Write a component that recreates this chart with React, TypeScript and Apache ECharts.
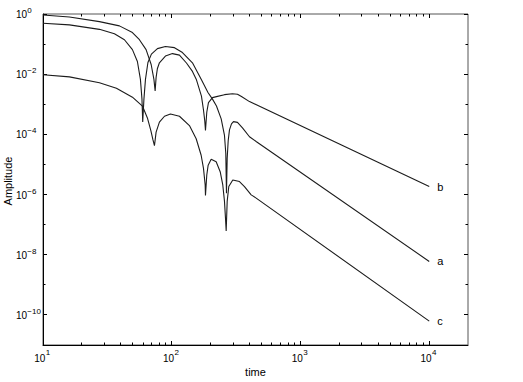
import React, { useEffect, useRef } from 'react';
import * as echarts from 'echarts';

const FONT = '"Liberation Sans", Arial, Helvetica, sans-serif';

const X_MIN = 10;
const X_MAX = 20000;
const Y_MIN = 1e-11;
const Y_MAX = 1;

const xMajorTicks = [10, 100, 1000, 10000];
const xMinorTicks = [20, 30, 40, 50, 60, 70, 80, 90, 200, 300, 400, 500, 600, 700, 800, 900, 2000, 3000, 4000, 5000, 6000, 7000, 8000, 9000];
const yMajorTicks = [1, 1e-2, 1e-4, 1e-6, 1e-8, 1e-10];
const yMinorTicks = [1e-1, 1e-3, 1e-5, 1e-7, 1e-9];

// curve "b" (starts highest)
const seriesB: [number, number][] = [
  [10, 0.927], [16.04, 0.797], [27.43, 0.558], [39.23, 0.403], [49.5, 0.2426], [56.1, 0.1395],
  [63.2, 0.0654], [69.2, 0.021], [72.7, 6.74e-3], [74.3, 2.78e-3], [75.6, 7.85e-3], [77.4, 0.01551],
  [80.2, 0.02389], [89.3, 0.04], [101.3, 0.0483], [114.8, 0.0431], [130.1, 0.02353], [144.8, 0.01236],
  [155.6, 6.49e-3], [170.1, 1.862e-3], [176.4, 6.45e-4], [180.5, 2.8e-4], [182.8, 1.343e-4],
  [187.1, 5.42e-4], [192.8, 1.137e-3], [207.2, 1.662e-3], [222.5, 1.792e-3], [256.8, 2.085e-3],
  [296.2, 2.249e-3], [324, 2.165e-3], [348, 1.819e-3], [401.6, 1.227e-3], [10000, 1.846e-6],
];

// curve "a"
const seriesA: [number, number][] = [
  [10, 0.494], [16.04, 0.4346], [27.43, 0.309], [35.87, 0.2198], [42.9, 0.1395], [49.5, 0.0654],
  [54.1, 0.02637], [57.1, 6.74e-3], [58.7, 1.483e-3], [59.5, 2.6e-4], [60.8, 1.483e-3], [62.5, 6.74e-3],
  [65.3, 0.02444], [69.5, 0.04654], [77.4, 0.0706], [89.3, 0.0834], [105, 0.0761], [121.1, 0.0522],
  [144.8, 0.02389], [170.1, 6.49e-3], [191.1, 2.462e-3], [207.2, 1.483e-3], [222.5, 8.72e-4],
  [242.1, 3.26e-4], [256.8, 9.2e-5], [262.9, 2.3e-5], [266.1, 1.112e-6], [269.5, 1.575e-5],
  [274.4, 6.16e-5], [280.8, 1.416e-4], [291, 2.232e-4], [301.6, 2.656e-4], [324, 2.5e-4],
  [354.3, 1.649e-4], [401.6, 8.34e-5], [455, 5.71e-5], [10000, 5.97e-9],
];

// curve "c"
const seriesC: [number, number][] = [
  [10, 9.63e-3], [16.04, 8.15e-3], [27.43, 5.17e-3], [37.18, 3.41e-3], [49.5, 1.725e-3], [59.2, 8.72e-4],
  [64.7, 3.52e-4], [68.9, 1.313e-4], [71.4, 6.64e-5], [73.4, 4.22e-5], [75.6, 1.19e-4], [80.2, 2.538e-4],
  [87.8, 4e-4], [97.7, 4.76e-4], [114.8, 4e-4], [137.2, 1.963e-4], [154.8, 7.16e-5], [169.2, 2.02e-5],
  [176.4, 7.39e-6], [181.8, 2.085e-6], [182.8, 9.34e-7], [187.1, 4.45e-6], [191.8, 9.48e-6],
  [202.4, 1.494e-5], [221.3, 1.227e-5], [237.8, 5.75e-6], [249.1, 2.085e-6], [256.8, 5.93e-7],
  [261.4, 1.674e-7], [264.7, 6.11e-8], [269.5, 5.93e-7], [277.4, 1.846e-6], [297.9, 3.045e-6],
  [335.7, 2.698e-6], [367.2, 1.846e-6], [414, 9.77e-7], [452.7, 7.61e-7], [10000, 6.21e-11],
];

function expText(v: number): string {
  const e = Math.round(Math.log10(v));
  return e < 0 ? '\u2212' + String(-e) : String(e);
}

const crisp = (v: number) => Math.round(v - 0.5) + 0.5;

export default function App() {
  const ref = useRef<HTMLDivElement>(null);
  useEffect(() => {
    if (!ref.current) return;
    const chart = echarts.init(ref.current, undefined, { renderer: 'svg' });

    const lineSeries = (name: string, data: [number, number][]) => ({
      type: 'line',
      name,
      data,
      showSymbol: false,
      symbol: 'none',
      lineStyle: { color: '#1c1c1c', width: 1.1 },
      silent: true,
      endLabel: {
        show: true,
        formatter: (p: any) => p.seriesName,
        distance: 8,
        color: '#000',
        fontSize: 11,
        fontFamily: FONT,
      },
    });

    const xTickData = [
      ...xMajorTicks.map((v) => [v, Y_MIN, 1]),
      ...xMinorTicks.map((v) => [v, Y_MIN, 0]),
    ];
    const yTickData = [
      ...yMajorTicks.map((v) => [X_MIN, v, 1]),
      ...yMinorTicks.map((v) => [X_MIN, v, 0]),
    ];

    const option: any = {
      animation: false,
      grid: {
        left: 43, right: 55, top: 14, bottom: 34,
        show: true, borderColor: '#555', borderWidth: 1,
      },
      graphic: [
        {
          type: 'text', x: 8, y: 181, rotation: Math.PI / 2, silent: true,
          style: {
            text: 'Amplitude', fontSize: 11, fontFamily: FONT, fill: '#000',
            align: 'center', verticalAlign: 'middle', textAlign: 'center', textVerticalAlign: 'middle',
          },
        },
      ],
      xAxis: {
        type: 'log', logBase: 10, min: X_MIN, max: X_MAX,
        name: 'time', nameLocation: 'middle', nameGap: 21,
        nameTextStyle: { fontSize: 11, color: '#000', fontFamily: FONT },
        axisLine: { show: true, onZero: false, lineStyle: { color: '#000', width: 1 } },
        axisTick: { show: false },
        axisLabel: { show: false },
        splitLine: { show: false },
        minorTick: { show: false },
      },
      yAxis: {
        type: 'log', logBase: 10, min: Y_MIN, max: Y_MAX,
        axisLine: { show: true, onZero: false, lineStyle: { color: '#000', width: 1 } },
        axisTick: { show: false },
        axisLabel: { show: false },
        splitLine: { show: false },
        minorTick: { show: false },
      },
      series: [
        lineSeries('b', seriesB),
        lineSeries('a', seriesA),
        lineSeries('c', seriesC),
        {
          type: 'custom',
          silent: true,
          clip: false,
          data: xTickData,
          renderItem: (params: any, api: any) => {
            const v = api.value(0);
            const major = api.value(2) === 1;
            const b = api.coord([v, Y_MIN]);
            const t = api.coord([v, Y_MAX]);
            const len = major ? 4 : 2.5;
            const x = crisp(b[0]);
            const children: any[] = [
              { type: 'line', shape: { x1: x, y1: b[1], x2: x, y2: b[1] - len }, style: { stroke: '#000', lineWidth: 1 } },
              { type: 'line', shape: { x1: x, y1: t[1], x2: x, y2: t[1] + len }, style: { stroke: '#000', lineWidth: 1 } },
            ];
            if (major) {
              children.push({
                type: 'text', x: b[0] - 8.8, y: b[1] + 13,
                style: { text: '10', fontSize: 10, fontFamily: FONT, fill: '#000', align: 'left', verticalAlign: 'middle' },
              });
              children.push({
                type: 'text', x: b[0] + 2.8, y: b[1] + 7,
                style: { text: expText(v), fontSize: 8, fontFamily: FONT, fill: '#000', align: 'left', verticalAlign: 'middle' },
              });
            }
            return { type: 'group', children };
          },
        },
        {
          type: 'custom',
          silent: true,
          clip: false,
          data: yTickData,
          renderItem: (params: any, api: any) => {
            const v = api.value(1);
            const major = api.value(2) === 1;
            const l = api.coord([X_MIN, v]);
            const r = api.coord([X_MAX, v]);
            const len = major ? 4 : 2.5;
            const y = crisp(l[1]);
            const children: any[] = [
              { type: 'line', shape: { x1: l[0], y1: y, x2: l[0] + len, y2: y }, style: { stroke: '#000', lineWidth: 1 } },
              { type: 'line', shape: { x1: r[0], y1: y, x2: r[0] - len, y2: y }, style: { stroke: '#000', lineWidth: 1 } },
            ];
            if (major) {
              children.push({
                type: 'text', x: l[0] - 27, y: l[1] + 0.5,
                style: { text: '10', fontSize: 10, fontFamily: FONT, fill: '#000', align: 'left', verticalAlign: 'middle' },
              });
              children.push({
                type: 'text', x: l[0] - 15.7, y: l[1] - 3.5,
                style: { text: expText(v), fontSize: 8, fontFamily: FONT, fill: '#000', align: 'left', verticalAlign: 'middle' },
              });
            }
            return { type: 'group', children };
          },
        },
      ],
    };

    chart.setOption(option);
    return () => chart.dispose();
  }, []);

  return (
    <div
      ref={ref}
      style={{ position: 'fixed', left: 0, top: 0, width: 523, height: 382, background: '#fff' }}
    />
  );
}
